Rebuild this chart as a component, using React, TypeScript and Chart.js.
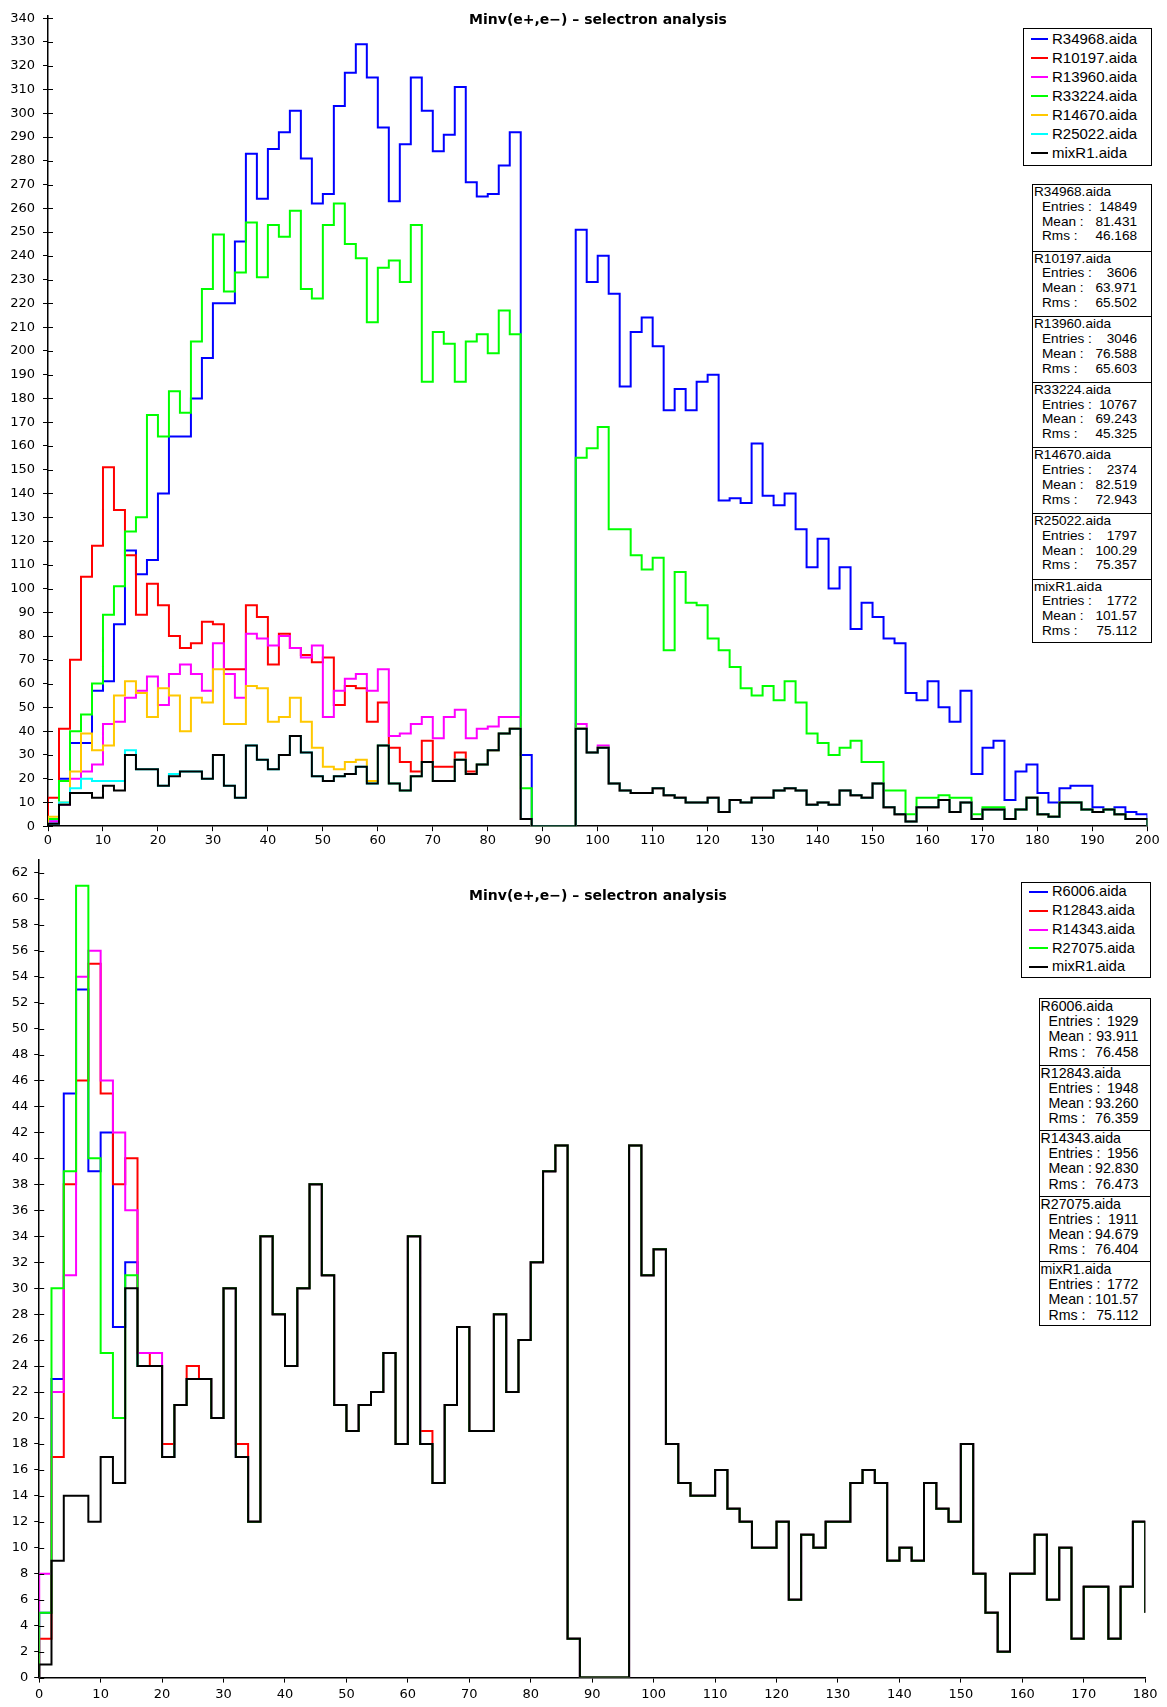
import React, { useEffect, useRef } from "react";
import { Chart, registerables } from "chart.js";

Chart.register(...registerables);

const BIN_WIDTH = 2;
const FONT = "'Liberation Sans', Arial, sans-serif";
const TICK_FONT = "'DejaVu Sans', sans-serif";

// ---------------- Top panel: 0..200, bins of 2 ----------------
const topLabels = ["R34968.aida", "R10197.aida", "R13960.aida", "R33224.aida", "R14670.aida", "R25022.aida", "mixR1.aida"];
const topColors = ["#0000ff", "#ff0000", "#ff00ff", "#00ff00", "#ffc800", "#00ffff", "#000000"];

const topR34968 = [
  2, 20, 35, 35, 57, 61, 85, 116, 106, 112,
  140, 164, 164, 180, 197, 220, 220, 246, 283, 264,
  285, 292, 301, 281, 262, 266, 303, 317, 329, 315,
  294, 263, 287, 315, 301, 284, 291, 311, 271, 265,
  266, 278, 292, 30, 0, 0, 0, 0, 251, 229,
  240, 224, 185, 208, 214, 202, 175, 184, 175, 187,
  190, 137, 138, 136, 161, 139, 135, 140, 125, 109,
  121, 100, 109, 83, 94, 88, 79, 77, 56, 53,
  61, 50, 44, 57, 22, 33, 36, 11, 23, 26,
  14, 10, 16, 17, 17, 8, 7, 8, 6, 5,
];
const topR10197 = [
  12, 41, 70, 105, 118, 151, 133, 114, 89, 102,
  93, 80, 75, 77, 86, 85, 66, 66, 93, 88,
  68, 81, 75, 72, 69, 71, 51, 59, 58, 44,
  52, 33, 27, 23, 36, 25, 25, 31, 23, 26,
  32, 39, 41, 3, 0, 0, 0, 0, 41, 31,
  33, 18, 15, 14, 14, 16, 13, 12, 10, 10,
  12, 6, 11, 10, 12, 12, 15, 16, 15, 9,
  10, 9, 15, 13, 12, 18, 8, 5, 2, 8,
  8, 11, 6, 10, 3, 7, 7, 3, 7, 12,
  5, 4, 10, 10, 7, 6, 7, 5, 3, 3,
];
const topR13960 = [
  2, 9, 20, 23, 26, 43, 44, 54, 57, 63,
  51, 64, 68, 64, 57, 77, 64, 54, 81, 79,
  76, 80, 75, 71, 76, 46, 57, 62, 64, 57,
  66, 38, 39, 43, 46, 37, 46, 49, 37, 41,
  42, 46, 46, 3, 0, 0, 0, 0, 43, 31,
  34, 18, 15, 14, 14, 16, 13, 12, 10, 10,
  12, 6, 11, 10, 12, 12, 15, 16, 15, 9,
  10, 9, 15, 13, 12, 18, 8, 5, 2, 8,
  8, 11, 6, 10, 3, 7, 7, 3, 7, 12,
  5, 4, 10, 10, 7, 6, 7, 5, 3, 3,
];
const topR33224 = [
  3, 19, 40, 47, 60, 89, 101, 124, 130, 173,
  164, 183, 174, 204, 226, 249, 225, 233, 254, 231,
  253, 248, 259, 226, 222, 253, 262, 245, 239, 212,
  235, 238, 229, 253, 187, 208, 203, 187, 204, 207,
  199, 217, 207, 16, 0, 0, 0, 0, 155, 159,
  168, 125, 125, 114, 108, 113, 74, 107, 94, 93,
  79, 74, 67, 58, 55, 59, 53, 61, 52, 39,
  35, 30, 33, 36, 27, 27, 15, 15, 5, 12,
  12, 13, 12, 12, 5, 8, 8, 3, 7, 12,
  5, 4, 10, 10, 7, 6, 7, 5, 3, 3,
];
const topR14670 = [
  4, 10, 23, 39, 32, 34, 55, 61, 56, 46,
  58, 55, 40, 54, 52, 66, 43, 43, 59, 58,
  44, 46, 54, 44, 33, 25, 24, 27, 28, 19,
  34, 18, 15, 21, 27, 19, 19, 28, 22, 26,
  32, 39, 41, 3, 0, 0, 0, 0, 41, 31,
  33, 18, 15, 14, 14, 16, 13, 12, 10, 10,
  12, 6, 11, 10, 12, 12, 15, 16, 15, 9,
  10, 9, 15, 13, 12, 18, 8, 5, 2, 8,
  8, 11, 6, 10, 3, 7, 7, 3, 7, 12,
  5, 4, 10, 10, 7, 6, 7, 5, 3, 3,
];
const topR25022 = [
  1, 10, 16, 20, 19, 19, 19, 32, 24, 24,
  17, 22, 23, 23, 20, 30, 17, 12, 34, 28,
  24, 30, 38, 31, 21, 19, 21, 22, 25, 18,
  34, 18, 15, 21, 27, 19, 19, 28, 22, 26,
  32, 39, 41, 3, 0, 0, 0, 0, 41, 31,
  33, 18, 15, 14, 14, 16, 13, 12, 10, 10,
  12, 6, 11, 10, 12, 12, 15, 16, 15, 9,
  10, 9, 15, 13, 12, 18, 8, 5, 2, 8,
  8, 11, 6, 10, 3, 7, 7, 3, 7, 12,
  5, 4, 10, 10, 7, 6, 7, 5, 3, 3,
];
const topMixR1 = [
  1, 9, 14, 14, 12, 17, 15, 30, 24, 24,
  17, 21, 23, 23, 20, 30, 17, 12, 34, 28,
  24, 30, 38, 31, 21, 19, 21, 22, 25, 18,
  34, 18, 15, 21, 27, 19, 19, 28, 22, 26,
  32, 39, 41, 3, 0, 0, 0, 0, 41, 31,
  33, 18, 15, 14, 14, 16, 13, 12, 10, 10,
  12, 6, 11, 10, 12, 12, 15, 16, 15, 9,
  10, 9, 15, 13, 12, 18, 8, 5, 2, 8,
  8, 11, 6, 10, 3, 7, 7, 3, 7, 12,
  5, 4, 10, 10, 7, 6, 7, 5, 3, 3,
];
const topTails = [0, 0, 0, 0, 0, 0, 0];

const topEntries = ["14849", "3606", "3046", "10767", "2374", "1797", "1772"];
const topMeans = ["81.431", "63.971", "76.588", "69.243", "82.519", "100.29", "101.57"];
const topRms = ["46.168", "65.502", "65.603", "45.325", "72.943", "75.357", "75.112"];

// ---------------- Bottom panel: 0..180, bins of 2 ----------------
const botLabels = ["R6006.aida", "R12843.aida", "R14343.aida", "R27075.aida", "mixR1.aida"];
const botColors = ["#0000ff", "#ff0000", "#ff00ff", "#00ff00", "#000000"];

const botR6006 = [
  5, 23, 45, 53, 39, 42, 27, 32, 24, 24,
  17, 21, 23, 23, 20, 30, 17, 12, 34, 28,
  24, 30, 38, 31, 21, 19, 21, 22, 25, 18,
  34, 18, 15, 21, 27, 19, 19, 28, 22, 26,
  32, 39, 41, 3, 0, 0, 0, 0, 41, 31,
  33, 18, 15, 14, 14, 16, 13, 12, 10, 10,
  12, 6, 11, 10, 12, 12, 15, 16, 15, 9,
  10, 9, 15, 13, 12, 18, 8, 5, 2, 8,
  8, 11, 6, 10, 3, 7, 7, 3, 7, 12,
];
const botR12843 = [
  3, 17, 38, 46, 55, 45, 38, 40, 25, 24,
  18, 21, 24, 23, 20, 30, 18, 12, 34, 28,
  24, 30, 38, 31, 21, 19, 21, 22, 25, 18,
  34, 19, 15, 21, 27, 19, 19, 28, 22, 26,
  32, 39, 41, 3, 0, 0, 0, 0, 41, 31,
  33, 18, 15, 14, 14, 16, 13, 12, 10, 10,
  12, 6, 11, 10, 12, 12, 15, 16, 15, 9,
  10, 9, 15, 13, 12, 18, 8, 5, 2, 8,
  8, 11, 6, 10, 3, 7, 7, 3, 7, 12,
];
const botR14343 = [
  8, 22, 31, 54, 56, 46, 42, 36, 25, 25,
  17, 21, 23, 23, 20, 30, 17, 12, 34, 28,
  24, 30, 38, 31, 21, 19, 21, 22, 25, 18,
  34, 18, 15, 21, 27, 19, 19, 28, 22, 26,
  32, 39, 41, 3, 0, 0, 0, 0, 41, 31,
  33, 18, 15, 14, 14, 16, 13, 12, 10, 10,
  12, 6, 11, 10, 12, 12, 15, 16, 15, 9,
  10, 9, 15, 13, 12, 18, 8, 5, 2, 8,
  8, 11, 6, 10, 3, 7, 7, 3, 7, 12,
];
const botR27075 = [
  5, 30, 39, 61, 40, 25, 20, 31, 24, 24,
  17, 21, 23, 23, 20, 30, 17, 12, 34, 28,
  24, 30, 38, 31, 21, 19, 21, 22, 25, 18,
  34, 18, 15, 21, 27, 19, 19, 28, 22, 26,
  32, 39, 41, 3, 0, 0, 0, 0, 41, 31,
  33, 18, 15, 14, 14, 16, 13, 12, 10, 10,
  12, 6, 11, 10, 12, 12, 15, 16, 15, 9,
  10, 9, 15, 13, 12, 18, 8, 5, 2, 8,
  8, 11, 6, 10, 3, 7, 7, 3, 7, 12,
];
const botMixR1 = [
  1, 9, 14, 14, 12, 17, 15, 30, 24, 24,
  17, 21, 23, 23, 20, 30, 17, 12, 34, 28,
  24, 30, 38, 31, 21, 19, 21, 22, 25, 18,
  34, 18, 15, 21, 27, 19, 19, 28, 22, 26,
  32, 39, 41, 3, 0, 0, 0, 0, 41, 31,
  33, 18, 15, 14, 14, 16, 13, 12, 10, 10,
  12, 6, 11, 10, 12, 12, 15, 16, 15, 9,
  10, 9, 15, 13, 12, 18, 8, 5, 2, 8,
  8, 11, 6, 10, 3, 7, 7, 3, 7, 12,
];
const botTails = [5, 5, 5, 5, 5];

const botEntries = ["1929", "1948", "1956", "1911", "1772"];
const botMeans = ["93.911", "93.260", "92.830", "94.679", "101.57"];
const botRms = ["76.458", "76.359", "76.473", "76.404", "75.112"];

const TITLE = "Minv(e+,e\u2212) \u2013 selectron analysis";

function histPoints(values: number[], tail: number) {
  const pts = [{ x: 0, y: 0 }];
  values.forEach((v, i) => pts.push({ x: i * BIN_WIDTH, y: v }));
  pts.push({ x: values.length * BIN_WIDTH, y: tail });
  return pts;
}

const innerTicks = {
  id: "innerTicks",
  afterDraw(chart: any) {
    const ys = chart.scales.y;
    const { ctx, chartArea } = chart;
    ctx.save();
    ctx.strokeStyle = "#000";
    ctx.lineWidth = 1;
    ys.ticks.forEach((_: any, i: number) => {
      const py = Math.round(ys.getPixelForTick(i)) + 0.5;
      ctx.beginPath();
      ctx.moveTo(chartArea.left, py);
      ctx.lineTo(chartArea.left + 5, py);
      ctx.stroke();
    });
    ctx.restore();
  },
};

function makeConfig(o: any) {
  return {
    type: "line",
    data: {
      datasets: o.series.map((vals: number[], i: number) => ({
        label: o.labels[i],
        data: histPoints(vals, o.tails[i]),
        borderColor: o.colors[i],
        backgroundColor: o.colors[i],
        borderWidth: 2,
        pointRadius: 0,
        pointHoverRadius: 0,
        fill: false,
        stepped: "before",
        borderJoinStyle: "miter",
        order: o.series.length - i,
      })),
    },
    options: {
      animation: false,
      responsive: false,
      events: [],
      layout: { padding: { top: o.padTop, right: o.padRight, left: 0, bottom: 0 } },
      plugins: { legend: { display: false }, tooltip: { enabled: false }, title: { display: false } },
      scales: {
        x: {
          type: "linear",
          min: 0,
          max: o.xMax,
          ticks: {
            stepSize: 10,
            autoSkip: false,
            maxRotation: 0,
            includeBounds: false,
            padding: o.xLabelPad,
            color: "#000",
            font: { family: TICK_FONT, size: 13 },
          },
          grid: { drawOnChartArea: false, drawTicks: true, tickLength: 5, color: "#000" },
          border: { display: true, color: "#000", width: 1.5 },
          afterFit: (s: any) => {
            s.height = o.xAxisHeight;
          },
        },
        y: {
          type: "linear",
          min: 0,
          max: o.yMax,
          ticks: {
            stepSize: o.yStep,
            autoSkip: false,
            includeBounds: false,
            padding: o.yLabelPad,
            color: "#000",
            font: { family: TICK_FONT, size: 13 },
          },
          grid: { drawOnChartArea: false, drawTicks: true, tickLength: 5, color: "#000" },
          border: { display: true, color: "#000", width: 1.5 },
          afterFit: (s: any) => {
            s.width = o.yAxisWidth;
          },
        },
      },
    },
    plugins: [innerTicks],
  } as any;
}

function LegendBox(p: any) {
  return (
    <div
      style={{
        position: "absolute",
        left: p.left,
        top: p.top,
        width: p.width,
        height: p.height,
        border: "1px solid #000",
        boxSizing: "border-box",
        background: "#fff",
        fontFamily: FONT,
        fontSize: p.fontSize,
        color: "#000",
      }}
    >
      {p.names.map((n: string, i: number) => (
        <React.Fragment key={n}>
          <div
            style={{
              position: "absolute",
              left: p.lineX0,
              width: p.lineX1 - p.lineX0,
              top: p.rowY0 + i * p.rowStep - 1,
              height: 2,
              background: p.colors[i],
            }}
          />
          <div
            style={{
              position: "absolute",
              left: p.textX,
              top: p.rowY0 + i * p.rowStep - p.fontSize * 0.6,
              lineHeight: `${p.fontSize * 1.2}px`,
              whiteSpace: "nowrap",
            }}
          >
            {n}
          </div>
        </React.Fragment>
      ))}
    </div>
  );
}

function StatsBox(p: any) {
  const rows = (i: number) => [
    ["Entries :", p.entries[i]],
    ["Mean :", p.means[i]],
    ["Rms :", p.rms[i]],
  ];
  return (
    <div
      style={{
        position: "absolute",
        left: p.left,
        top: p.top,
        width: p.width,
        height: p.blockH * p.names.length,
        border: "1px solid #000",
        boxSizing: "border-box",
        background: "#fff",
        fontFamily: FONT,
        fontSize: p.fontSize,
        color: "#000",
      }}
    >
      {p.names.map((n: string, i: number) => (
        <div
          key={n}
          style={{
            position: "absolute",
            left: 0,
            right: 0,
            top: i * p.blockH,
            height: p.blockH,
            borderTop: i ? "1px solid #000" : "none",
            boxSizing: "border-box",
          }}
        >
          <div style={{ position: "absolute", left: p.nameX, top: p.line0, lineHeight: `${p.lineH}px`, whiteSpace: "nowrap" }}>{n}</div>
          {rows(i).map((r, k) => (
            <React.Fragment key={r[0]}>
              <div
                style={{
                  position: "absolute",
                  left: p.labelX,
                  top: p.line0 + (k + 1) * p.lineH,
                  lineHeight: `${p.lineH}px`,
                  whiteSpace: "nowrap",
                }}
              >
                {r[0]}
              </div>
              <div
                style={{
                  position: "absolute",
                  right: p.valueRight,
                  top: p.line0 + (k + 1) * p.lineH,
                  lineHeight: `${p.lineH}px`,
                  whiteSpace: "nowrap",
                  textAlign: "right",
                }}
              >
                {r[1]}
              </div>
            </React.Fragment>
          ))}
        </div>
      ))}
    </div>
  );
}

export default function App() {
  const topRef = useRef<HTMLCanvasElement>(null);
  const botRef = useRef<HTMLCanvasElement>(null);

  useEffect(() => {
    const top = new Chart(
      topRef.current as HTMLCanvasElement,
      makeConfig({
        series: [topR34968, topR10197, topR13960, topR33224, topR14670, topR25022, topMixR1],
        labels: topLabels,
        colors: topColors,
        tails: topTails,
        xMax: 200,
        yMax: 341,
        yStep: 10,
        yAxisWidth: 48,
        xAxisHeight: 25.8,
        padTop: 10.5,
        padRight: 19.6,
        yLabelPad: 8,
        xLabelPad: 2,
      })
    );
    const bot = new Chart(
      botRef.current as HTMLCanvasElement,
      makeConfig({
        series: [botR6006, botR12843, botR14343, botR27075, botMixR1],
        labels: botLabels,
        colors: botColors,
        tails: botTails,
        xMax: 180,
        yMax: 63,
        yStep: 2,
        yAxisWidth: 39.2,
        xAxisHeight: 29.4,
        padTop: 12,
        padRight: 21.8,
        yLabelPad: 6,
        xLabelPad: 4,
      })
    );
    return () => {
      top.destroy();
      bot.destroy();
    };
  }, []);

  const titleStyle = (topPx: number) => ({
    position: "absolute" as const,
    left: 348,
    width: 500,
    top: topPx,
    textAlign: "center" as const,
    fontFamily: "'DejaVu Sans', sans-serif",
    fontWeight: 700,
    fontSize: 14,
    lineHeight: "17px",
    color: "#000",
    whiteSpace: "nowrap" as const,
  });

  return (
    <div style={{ position: "absolute", left: 0, top: 0, width: 1167, height: 1707, background: "#fff", overflow: "hidden" }}>
      <canvas ref={topRef} width={1167} height={852} style={{ position: "absolute", left: 0, top: 0 }} />
      <canvas ref={botRef} width={1167} height={861} style={{ position: "absolute", left: 0, top: 846 }} />

      <div style={titleStyle(11)}>{TITLE}</div>
      <div style={titleStyle(886.5)}>{TITLE}</div>

      <LegendBox
        left={1023}
        top={28}
        width={129}
        height={138}
        names={topLabels}
        colors={topColors}
        rowY0={10}
        rowStep={19}
        lineX0={7}
        lineX1={24}
        textX={28}
        fontSize={15}
      />
      <StatsBox
        left={1032}
        top={184}
        width={120}
        blockH={65.6}
        lineH={14.8}
        line0={0}
        nameX={1}
        labelX={9}
        valueRight={14}
        fontSize={13.6}
        names={topLabels}
        entries={topEntries}
        means={topMeans}
        rms={topRms}
      />

      <LegendBox
        left={1021}
        top={882}
        width={130}
        height={96}
        names={botLabels}
        colors={botColors}
        rowY0={9}
        rowStep={18.8}
        lineX0={7}
        lineX1={26}
        textX={30}
        fontSize={14.6}
      />
      <StatsBox
        left={1038.5}
        top={998}
        width={112}
        blockH={65.5}
        lineH={15.2}
        line0={0}
        nameX={1}
        labelX={9}
        valueRight={11}
        fontSize={14.2}
        names={botLabels}
        entries={botEntries}
        means={botMeans}
        rms={botRms}
      />
    </div>
  );
}
